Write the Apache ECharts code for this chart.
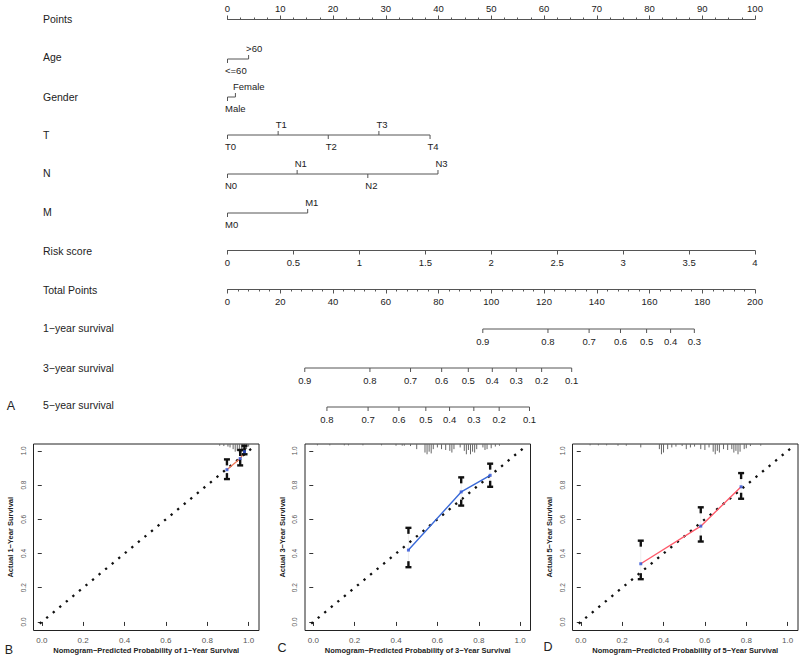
<!DOCTYPE html>
<html><head><meta charset="utf-8">
<script src="https://cdn.jsdelivr.net/npm/echarts@6/dist/echarts.min.js"></script>
<style>html,body{margin:0;padding:0;background:#fff}#c{width:800px;height:659px}</style>
</head><body><div id="c"></div>
<script>
// ---------------- Nomogram data ----------------
const rowNames = ['Points','Age','Gender','T','N','M','Risk score','Total Points','1\u2212year survival','3\u2212year survival','5\u2212year survival'];
const ageLevels = ['<=60','>60'];          const agePoints = [0, 4];
const genderLevels = ['Male','Female'];    const genderPoints = [0, 1.5];
const tLevels = ['T0','T1','T2','T3','T4']; const tPoints = [0, 9.6, 19.1, 28.7, 38.4];
const nLevels = ['N0','N1','N2','N3'];      const nPoints = [0, 13.2, 26.6, 39.9];
const mLevels = ['M0','M1'];                const mPoints = [0, 15.2];
const pointsRange = [0, 100];
const riskRange = [0, 4];
const totalRange = [0, 200];
const surv1Probs = ['0.9','0.8','0.7','0.6','0.5','0.4','0.3'];
const surv1Total = [96.8, 121.5, 137.1, 149.0, 158.9, 168.0, 177.0];
const surv3Probs = ['0.9','0.8','0.7','0.6','0.5','0.4','0.3','0.2','0.1'];
const surv3Total = [29.3, 54.0, 69.4, 81.2, 91.3, 100.4, 109.5, 119.1, 130.5];
const surv5Probs = ['0.8','0.7','0.6','0.5','0.4','0.3','0.2','0.1'];
const surv5Total = [37.7, 53.3, 65.0, 75.2, 84.2, 93.4, 103.0, 114.5];

// ---------------- Calibration data ----------------
const calTicks = [0, 0.2, 0.4, 0.6, 0.8, 1.0];
const idealLine = [[-0.01, -0.01], [1.02, 1.02]];
// 1-year
const predB = [0.895, 0.959, 0.98];  const obsB = [0.89, 0.955, 0.995];
const loB = [0.835, 0.915, 0.98];    const hiB = [0.95, 1.005, 1.03];
const rugB = [[0.86,0.01],[0.88,0.012],[0.90,0.015],[0.91,0.02],[0.925,0.03],[0.935,0.045],[0.945,0.04],[0.955,0.05],[0.965,0.05],[0.972,0.045],[0.98,0.05],[0.99,0.03],[1.0,0.015]];
// 3-year
const predC = [0.46, 0.715, 0.855];  const obsC = [0.42, 0.76, 0.857];
const loC = [0.32, 0.68, 0.79];      const hiC = [0.55, 0.845, 0.925];
const rugC = [[0.02,0.008],[0.08,0.008],[0.15,0.008],[0.17,0.008],[0.24,0.008],[0.33,0.008],[0.40,0.01],[0.43,0.01],[0.44,0.01],[0.47,0.012],[0.50,0.03],[0.54,0.05],[0.55,0.06],[0.56,0.045],[0.57,0.055],[0.58,0.03],[0.60,0.02],[0.62,0.03],[0.64,0.035],[0.66,0.04],[0.67,0.05],[0.68,0.03],[0.71,0.02],[0.73,0.04],[0.74,0.06],[0.75,0.035],[0.76,0.06],[0.77,0.045],[0.78,0.05],[0.79,0.03],[0.82,0.02],[0.83,0.035],[0.84,0.03],[0.86,0.025],[0.88,0.015],[0.90,0.01]];
// 5-year
const predD = [0.29, 0.58, 0.775];   const obsD = [0.34, 0.56, 0.79];
const loD = [0.25, 0.47, 0.72];      const hiD = [0.475, 0.67, 0.87];
const rugD = [[0.045,0.008],[0.085,0.008],[0.125,0.008],[0.18,0.01],[0.22,0.01],[0.29,0.02],[0.38,0.03],[0.39,0.06],[0.40,0.05],[0.42,0.03],[0.44,0.02],[0.46,0.015],[0.49,0.012],[0.51,0.03],[0.53,0.02],[0.55,0.015],[0.58,0.03],[0.60,0.035],[0.62,0.02],[0.64,0.045],[0.65,0.06],[0.66,0.04],[0.67,0.05],[0.69,0.03],[0.71,0.035],[0.73,0.03],[0.74,0.05],[0.75,0.04],[0.76,0.06],[0.77,0.045],[0.79,0.03],[0.80,0.025],[0.82,0.012],[0.87,0.01]];

// ---------------- Layout / style ----------------
const FONT = "'Liberation Sans', Arial, Helvetica, sans-serif";
const LINE = '#555';
const TXT = '#222';
const rowY = [19, 59, 97, 135, 174, 213, 251, 290, 329, 368, 407];
const labelY = [19, 57, 97, 135, 173, 212, 251, 290, 328, 368, 405];
const NL = 227.5, NR = 45;

const grids = [], xAxes = [], yAxes = [], series = [];

function hiddenY(gi){ return {gridIndex: gi, type:'value', min:-1, max:1, show:false}; }

// axis rows
function axisRow(gi, y, range, interval, minorSplit, pos){
  grids.push(pos === 'top' ? {left:NL, right:NR, top:y, height:1} : {left:NL, right:NR, top:y-1, height:1});
  xAxes.push({gridIndex:gi, type:'value', min:range[0], max:range[1], interval:interval, position:pos,
    axisLine:{lineStyle:{color:LINE, width:1}},
    axisTick:{length:4, lineStyle:{color:LINE}},
    minorTick: minorSplit ? {show:true, splitNumber:minorSplit, length:2, lineStyle:{color:LINE}} : {show:false},
    splitLine:{show:false}, minorSplitLine:{show:false},
    axisLabel:{fontSize:9.5, color:TXT, fontFamily:FONT, margin:6}});
  yAxes.push(hiddenY(gi));
}

// categorical / survival rows
function seriesRow(gi, y, range, pts, labels, mode){
  grids.push({left:NL, right:NR, top:y-1, height:2});
  xAxes.push({gridIndex:gi, type:'value', min:range[0], max:range[1], show:false});
  yAxes.push(hiddenY(gi));
  series.push({type:'line', xAxisIndex:gi, yAxisIndex:gi, data: [[pts[0],0],[pts[pts.length-1],0]],
    symbol:'none', lineStyle:{color:LINE, width:1}, silent:true});
  series.push({type:'custom', xAxisIndex:gi, yAxisIndex:gi, silent:true,
    data: pts.map(p => [p, 0]),
    renderItem: function(params, api){
      const i = params.dataIndex;
      const c = api.coord([api.value(0), 0]);
      const dir = mode === 'surv' ? 1 : (i % 2 === 0 ? 1 : -1);
      const tx = mode === 'surv' ? c[0] : c[0] - 2.5;
      const al = mode === 'surv' ? 'center' : 'left';
      return {type:'group', children:[
        {type:'line', shape:{x1:c[0], y1:c[1], x2:c[0], y2:c[1] + dir*4}, style:{stroke:LINE, lineWidth:1}},
        {type:'text', x: tx, y: c[1] + dir*(mode === 'surv' ? 12 : 11),
         style:{text: labels[i], fill:TXT, fontSize:9.5, fontFamily:FONT, align:al, textAlign:al, verticalAlign:'middle', textVerticalAlign:'middle'}}
      ]};
    }});
}

axisRow(0, rowY[0], pointsRange, 10, 4, 'top');
seriesRow(1, rowY[1], pointsRange, agePoints, ageLevels, 'cat');
seriesRow(2, rowY[2], pointsRange, genderPoints, genderLevels, 'cat');
seriesRow(3, rowY[3], pointsRange, tPoints, tLevels, 'cat');
seriesRow(4, rowY[4], pointsRange, nPoints, nLevels, 'cat');
seriesRow(5, rowY[5], pointsRange, mPoints, mLevels, 'cat');
axisRow(6, rowY[6], riskRange, 0.5, 0, 'bottom');
axisRow(7, rowY[7], totalRange, 20, 5, 'bottom');
seriesRow(8, rowY[8], totalRange, surv1Total, surv1Probs, 'surv');
seriesRow(9, rowY[9], totalRange, surv3Total, surv3Probs, 'surv');
seriesRow(10, rowY[10], totalRange, surv5Total, surv5Probs, 'surv');

// calibration panels
const CAL_X = [-0.04, 1.05], CAL_Y = [-0.05, 1.04];
function calPanel(gi, left, yr, pred, obs, lo, hi, rug, color){
  grids.push({left:left, top:444, width:225.5, height:186.5, show:true, borderColor:'#222', borderWidth:1, backgroundColor:'rgba(0,0,0,0)'});
  xAxes.push({gridIndex:gi, type:'value', min:CAL_X[0], max:CAL_X[1],
    axisLine:{show:false}, splitLine:{show:false},
    axisTick:{show:true, length:4, lineStyle:{color:'#333'}, customValues:calTicks},
    axisLabel:{customValues:calTicks, formatter: v => v.toFixed(1), fontSize:8, color:'#555', fontFamily:FONT, margin:6},
    name:'Nomogram\u2212Predicted Probability of ' + yr + '\u2212Year Survival', nameLocation:'middle', nameGap:16,
    nameTextStyle:{fontWeight:'bold', fontSize:7.5, color:TXT, fontFamily:FONT}});
  yAxes.push({gridIndex:gi, type:'value', min:CAL_Y[0], max:CAL_Y[1],
    axisLine:{show:false}, splitLine:{show:false},
    axisTick:{show:true, length:4, lineStyle:{color:'#333'}, customValues:calTicks},
    axisLabel:{customValues:calTicks, formatter: v => v.toFixed(1), fontSize:6.5, color:'#555', fontFamily:FONT, margin:7, rotate:90},
    name:'Actual ' + yr + '\u2212Year Survival', nameLocation:'middle', nameGap:19,
    nameTextStyle:{fontWeight:'bold', fontSize:7.5, color:TXT, fontFamily:FONT}});
  // ideal dotted diagonal
  series.push({type:'line', xAxisIndex:gi, yAxisIndex:gi, data:idealLine, symbol:'none', silent:true, z:2,
    lineStyle:{color:'#111', width:2.3, type:[2.3, 6.2], cap:'butt'}});
  // rug
  series.push({type:'custom', xAxisIndex:gi, yAxisIndex:gi, silent:true, data:rug, z:3,
    renderItem: function(params, api){
      const p0 = api.coord([api.value(0), CAL_Y[1]]);
      const p1 = api.coord([api.value(0), CAL_Y[1] - api.value(1)]);
      return {type:'line', shape:{x1:p0[0], y1:p0[1], x2:p1[0], y2:p1[1]}, style:{stroke:'#666', lineWidth:1}};
    }});
  // calibration line
  series.push({type:'line', xAxisIndex:gi, yAxisIndex:gi, data: pred.map((p,i)=>[p, obs[i]]), symbol:'none', silent:true, z:4,
    lineStyle:{color:color, width:1.4}});
  // error bars
  series.push({type:'custom', xAxisIndex:gi, yAxisIndex:gi, silent:true, z:5,
    data: pred.map((p,i)=>[p, lo[i], hi[i]]),
    encode:{x:0, y:[1,2]},
    renderItem: function(params, api){
      const ph = api.coord([api.value(0), api.value(2)]);
      const pl = api.coord([api.value(0), api.value(1)]);
      const f = {fill:'#111'};
      return {type:'group', children:[
        {type:'line', shape:{x1:ph[0], y1:ph[1], x2:pl[0], y2:pl[1]}, style:{stroke:'#e4e4e4', lineWidth:0.6}},
        {type:'rect', shape:{x:ph[0]-3, y:ph[1]-1.2, width:6, height:2.4}, style:f},
        {type:'rect', shape:{x:ph[0]-1.2, y:ph[1], width:2.4, height:6}, style:f},
        {type:'rect', shape:{x:pl[0]-3, y:pl[1]-1.2, width:6, height:2.4}, style:f},
        {type:'rect', shape:{x:pl[0]-1.2, y:pl[1]-6, width:2.4, height:6}, style:f}
      ]};
    }});
  // point markers
  series.push({type:'scatter', xAxisIndex:gi, yAxisIndex:gi, data: pred.map((p,i)=>[p, obs[i]]), silent:true, z:6,
    symbol:'rect', symbolSize:3, itemStyle:{color:'#2b4fd6'}});
}
calPanel(11, 33.5, 1, predB, obsB, loB, hiB, rugB, '#f07a5a');
calPanel(12, 305, 3, predC, obsC, loC, hiC, rugC, '#3a6ad8');
calPanel(13, 572.5, 5, predD, obsD, loD, hiD, rugD, '#ff5c6c');

// text: row labels and panel letters
const graphic = rowNames.map((n, i) => ({type:'text', x:43, y:labelY[i], silent:true,
  style:{text:n, fill:TXT, fontSize:10.5, fontFamily:FONT, verticalAlign:'middle', align:'left'}}));
const panelLetters = ['A','B','C','D'];
const letterPos = [[11,406],[9,650],[282,648],[548,647]];
panelLetters.forEach((t,i) => graphic.push({type:'text', x:letterPos[i][0], y:letterPos[i][1], silent:true,
  style:{text:t, fill:TXT, fontSize:12.5, fontFamily:FONT, verticalAlign:'middle', align:'center'}}));

const chart = echarts.init(document.getElementById('c'), null, {renderer:'svg'});
chart.setOption({animation:false, backgroundColor:'#fff', grid:grids, xAxis:xAxes, yAxis:yAxes, series:series, graphic:graphic});
</script></body></html>
